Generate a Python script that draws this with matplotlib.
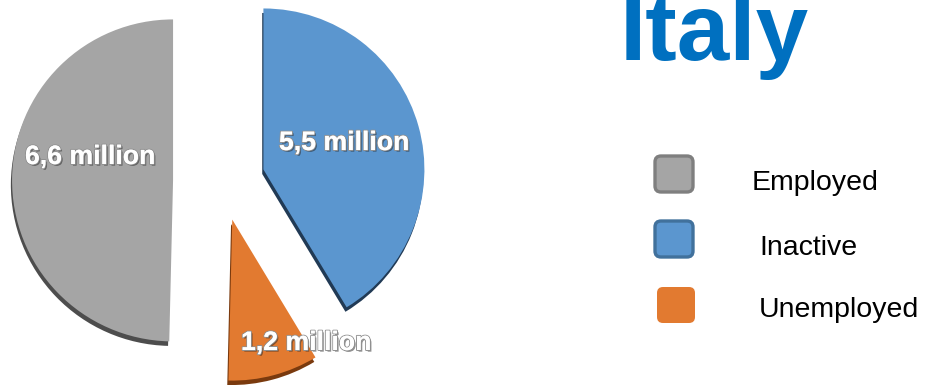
import matplotlib.pyplot as plt
import matplotlib.patheffects as pe
from matplotlib.patches import FancyBboxPatch

# data
categories = ['Employed', 'Inactive', 'Unemployed']
values = [6.6, 5.5, 1.2]  # million
colors = ['#a5a5a5', '#5b96cf', '#e27a30']
shade = ['#4d4d4d', '#213a55', '#7a3a0e']
legend_edge = ['#7f7f7f', '#41719c', 'none']
title = 'Italy'

# pie drawn counterclockwise from the top: Employed, Unemployed, Inactive
order = [0, 2, 1]
explode = {0: 0.304, 1: 0.267, 2: 0.248}

W, H = 930, 385
R = 161.0              # pie radius in px
cx, cy = 222.0, 204.0  # pie centre in px (from bottom-left)

fig = plt.figure(figsize=(W / 100, H / 100), dpi=100)

# pie axes: 1 data unit == R px
ax = fig.add_axes([0, 0, 1, 1])
pv = [values[i] for i in order]
pc = [colors[i] for i in order]
ps = [shade[i] for i in order]
pe_ = [explode[i] for i in order]

# dark copy underneath, shifted down, gives the 3D rim
ax.pie(pv, colors=ps, explode=pe_, startangle=90, counterclock=True,
       center=(-1.2 / R, -4.5 / R), radius=1.0,
       wedgeprops=dict(linewidth=0))
ax.pie(pv, colors=pc, explode=pe_, startangle=90, counterclock=True,
       center=(0, 0), radius=1.0,
       wedgeprops=dict(linewidth=0))
ax.set_xlim(-cx / R, (W - cx) / R)
ax.set_ylim(-cy / R, (H - cy) / R)
ax.set_aspect('equal', adjustable='box')
ax.axis('off')

# overlay axes in pixel coordinates for labels, title and legend
ov = fig.add_axes([0, 0, 1, 1])
ov.set_xlim(0, W)
ov.set_ylim(0, H)
ov.axis('off')
ov.patch.set_alpha(0)

label_pos = [(90, 228), (344, 242), (306, 42)]
fx = [pe.withSimplePatchShadow(offset=(1.2, -1.2), shadow_rgbFace='#222222', alpha=0.5),
      pe.withStroke(linewidth=1.4, foreground='#909090'),
      pe.Normal()]
for v, (x, y) in zip(values, label_pos):
    ov.text(x, y, f'{v:.1f}'.replace('.', ',') + ' million',
            ha='center', va='center', color='white', fontsize=19.2,
            fontweight='bold', family='Liberation Sans', path_effects=fx)

ov.text(620, 325, title, ha='left', va='baseline', color='#0070c0',
        fontsize=68, fontweight='bold', family='Liberation Sans')

box_pos = [(655, 193), (655, 128), (657, 62)]
text_pos = [(752, 195), (759, 130), (759, 68)]
for i, cat in enumerate(categories):
    bx, by = box_pos[i]
    ov.add_patch(FancyBboxPatch((bx, by), 38, 36,
                                boxstyle='round,pad=0,rounding_size=6',
                                facecolor=colors[i], edgecolor=legend_edge[i],
                                linewidth=2.4))
    tx, ty = text_pos[i]
    ov.text(tx, ty, cat, ha='left', va='baseline', color='black',
            fontsize=20.5, family='Liberation Sans')

fig.savefig('out.png', dpi=100)
